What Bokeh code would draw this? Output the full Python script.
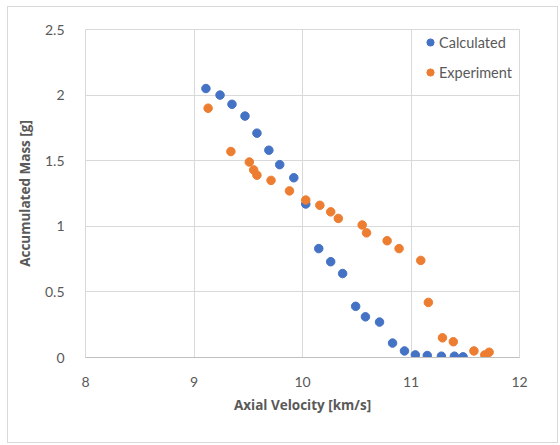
from bokeh.plotting import figure
from bokeh.models import Range1d, FixedTicker, NumeralTickFormatter, Legend, LegendItem
from bokeh.embed import file_html
from bokeh.resources import INLINE

calc_x = [9.11, 9.24, 9.35, 9.47, 9.58, 9.69, 9.79, 9.92, 10.03, 10.15, 10.26, 10.37,
          10.49, 10.58, 10.71, 10.83, 10.94, 11.04, 11.15, 11.28, 11.40, 11.48]
calc_y = [2.05, 2.00, 1.93, 1.84, 1.71, 1.58, 1.47, 1.37, 1.17, 0.83, 0.73, 0.64,
          0.39, 0.31, 0.27, 0.11, 0.05, 0.02, 0.015, 0.01, 0.01, 0.005]
exp_x = [9.13, 9.34, 9.51, 9.55, 9.58, 9.71, 9.88, 10.03, 10.16, 10.26, 10.33, 10.55,
         10.59, 10.78, 10.89, 11.09, 11.16, 11.29, 11.39, 11.58, 11.68, 11.72]
exp_y = [1.90, 1.57, 1.49, 1.43, 1.39, 1.35, 1.27, 1.20, 1.16, 1.11, 1.06, 1.01,
         0.95, 0.89, 0.83, 0.74, 0.42, 0.15, 0.12, 0.05, 0.02, 0.04]
x_ticks = [8, 9, 10, 11, 12]
y_ticks = [0, 0.5, 1, 1.5, 2, 2.5]

FONT = "Lato"
TFONT = "Open Sans"
GREY = "#595959"

p = figure(width=551, height=437, output_backend="svg", toolbar_location=None,
           x_range=Range1d(8, 12), y_range=Range1d(0, 2.5),
           min_border_left=77, min_border_top=22, min_border_right=40, min_border_bottom=87)
p.styles = {"margin-left": "7px", "margin-top": "6px", "border": "1px solid #D9D9D9"}
p.outline_line_color = "#D9D9D9"
p.background_fill_color = "white"
p.border_fill_color = "white"

p.xaxis.ticker = FixedTicker(ticks=x_ticks)
p.yaxis.ticker = FixedTicker(ticks=y_ticks)
p.yaxis.formatter = NumeralTickFormatter(format="0.[0]")
for ax in (p.xaxis, p.yaxis):
    ax.major_tick_line_color = None
    ax.minor_tick_line_color = None
    ax.major_label_text_font = FONT
    ax.major_label_text_font_size = "14px"
    ax.major_label_text_color = GREY
    ax.axis_label_text_font = TFONT
    ax.axis_label_text_font_size = "13.5px"
    ax.axis_label_text_font_style = "bold"
    ax.axis_label_text_color = GREY
p.yaxis.axis_line_color = None
p.xaxis.axis_line_color = "#BFBFBF"
p.xaxis.axis_label = "Axial Velocity [km/s]"
p.yaxis.axis_label = "Accumulated Mass [g]"
p.xaxis.major_label_standoff = 13
p.yaxis.major_label_standoff = 15
p.xaxis.axis_label_standoff = 6
p.yaxis.axis_label_standoff = 8

p.xgrid.ticker = FixedTicker(ticks=x_ticks)
p.ygrid.ticker = FixedTicker(ticks=y_ticks)
p.grid.grid_line_color = "#D9D9D9"

r1 = p.scatter(calc_x, calc_y, size=8.5, color="#4472C4")
r2 = p.scatter(exp_x, exp_y, size=8.5, color="#ED7D31")

legend = Legend(items=[LegendItem(label="Calculated", renderers=[r1]),
                       LegendItem(label="Experiment", renderers=[r2])],
                location=(336, 275))
legend.label_text_font = FONT
legend.label_text_font_size = "14.5px"
legend.label_text_color = GREY
legend.glyph_width = 18
legend.glyph_height = 20
legend.label_height = 20
legend.label_standoff = 0
legend.spacing = 10
legend.padding = 0
legend.margin = 0
legend.border_line_alpha = 0
legend.background_fill_alpha = 0
p.add_layout(legend, "center")

open("out.html", "w").write(file_html(p, INLINE))
